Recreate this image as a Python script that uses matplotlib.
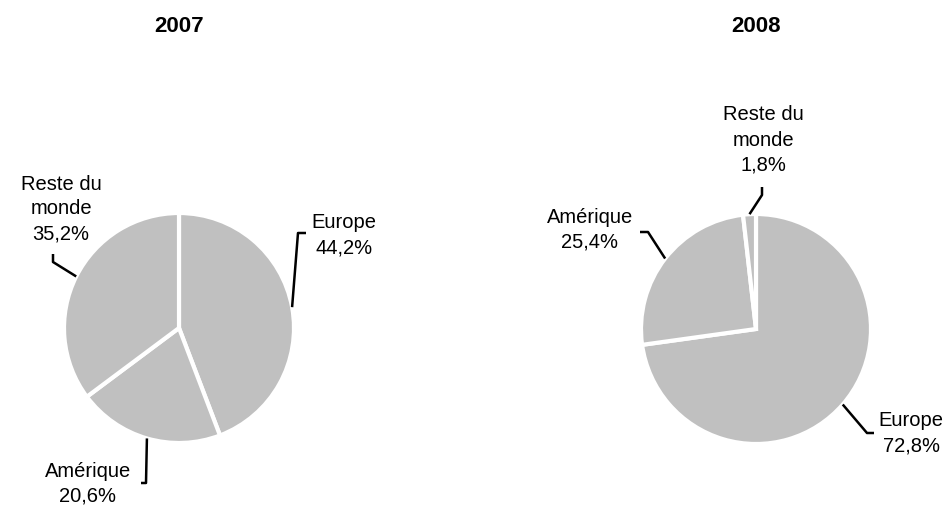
#!/usr/bin/env python3
"""
Two pie charts of sales split by region, 2007 vs 2008.
"""

import numpy as np
import matplotlib

matplotlib.use("Agg")
import matplotlib.pyplot as plt

plt.rcParams["font.family"] = ["Liberation Sans", "DejaVu Sans"]

W, H = 950, 507

years = ["2007", "2008"]
regions = ["Europe", "Amérique", "Reste du\nmonde"]
shares_2007 = [44.2, 20.6, 35.2]
shares_2008 = [72.8, 25.4, 1.8]

# layout (pixels, measured from the top-left corner)
centers = [(179, 328), (756, 329)]
radius = 115
# per label: elbow offset, tick end offset, text centre offset (relative to pie centre)
label_layout = [
    [((119, -95), (127, -95), (165, -93)),
     ((-33, 155), (-38, 155), (-91, 156)),
     ((-126, -66), (-126, -74), (-118, -119))],
    [((111, 104), (118, 104), (155, 104)),
     ((-108, -97), (-116, -97), (-166, -99)),
     ((6, -134), (6, -142), (7, -189))],
]

fig = plt.figure(figsize=(W / 100, H / 100), dpi=100)
ax = fig.add_axes([0, 0, 1, 1])

for shares, year, (cx, cy), layout in zip([shares_2007, shares_2008], years, centers, label_layout):
    wedges, _ = ax.pie(
        shares,
        colors=["#c0c0c0"] * len(shares),
        startangle=90,
        counterclock=False,
        center=(cx, H - cy),
        radius=radius,
        wedgeprops=dict(edgecolor="white", linewidth=3),
    )
    for w, name, val, (elbow, tick, txt) in zip(wedges, regions, shares, layout):
        mid = np.deg2rad((w.theta1 + w.theta2) / 2)
        ax_x = cx + radius * np.cos(mid)
        ax_y = (H - cy) + radius * np.sin(mid)
        xs = [ax_x, cx + elbow[0], cx + tick[0]]
        ys = [ax_y, H - cy - elbow[1], H - cy - tick[1]]
        ax.plot(xs, ys, color="black", lw=1.8, solid_capstyle="butt")
        label = f"{name}\n{val:.1f}%".replace(".", ",")
        ax.text(cx + txt[0], H - cy - txt[1], label, ha="center", va="center",
                multialignment="center", fontsize=14.5, linespacing=1.4)
    ax.text(cx, H - 27, year, ha="center", va="center", fontsize=16, fontweight="bold")

ax.set_xlim(0, W)
ax.set_ylim(0, H)
ax.set_aspect("auto")
ax.axis("off")

fig.savefig("out.png", dpi=100, facecolor="white")
